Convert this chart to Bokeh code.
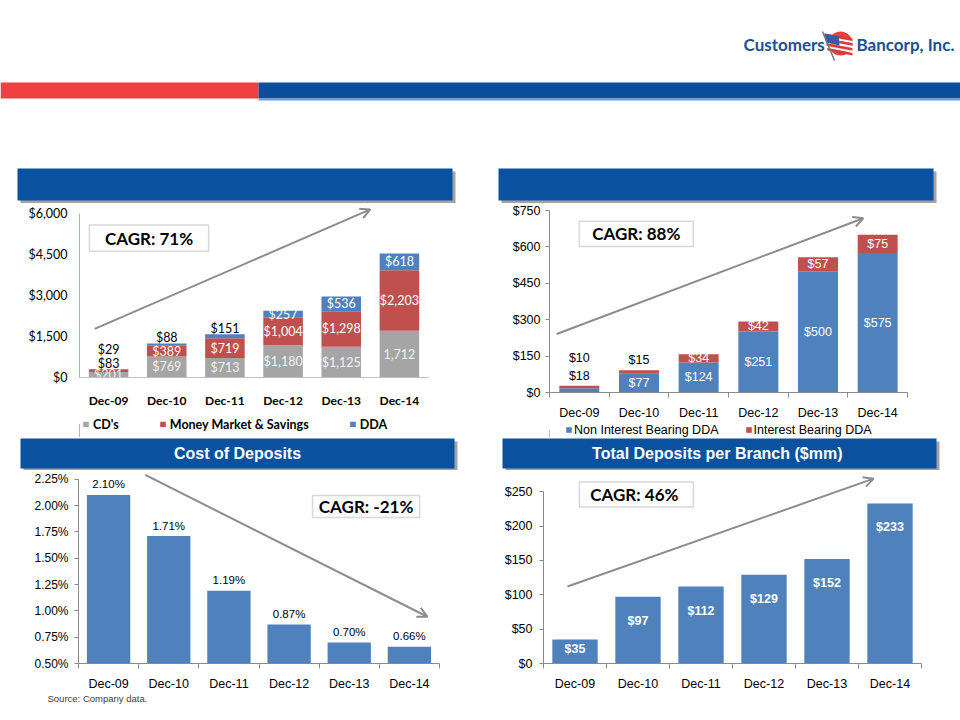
from bokeh.plotting import figure
from bokeh.layouts import column, row
from bokeh.models import (Range1d, FixedTicker, NumeralTickFormatter, PrintfTickFormatter,
                          Legend, LegendItem, Arrow, OpenHead, BoxAnnotation, Label,
                          ColumnDataSource)
from bokeh.core.properties import value
from bokeh.embed import file_html
from bokeh.resources import INLINE

# ---------------- data ----------------
categories = ["Dec-09", "Dec-10", "Dec-11", "Dec-12", "Dec-13", "Dec-14"]

# Total deposits ($mm)
cds = [201, 769, 713, 1180, 1125, 1712]
money_market = [83, 389, 719, 1004, 1298, 2203]
dda = [29, 88, 151, 257, 536, 618]
deposit_series = ["CD's", "Money Market & Savings", "DDA"]
cagr_deposits = "CAGR: 71%"
tl_ticks = [0, 1500, 3000, 4500, 6000]

# DDA ($mm)
non_int_dda = [18, 77, 124, 251, 500, 575]
int_dda = [10, 15, 34, 42, 57, 75]
dda_series = ["Non Interest Bearing DDA", "Interest Bearing DDA"]
cagr_dda = "CAGR: 88%"
tr_ticks = [0, 150, 300, 450, 600, 750]

# Cost of deposits (%)
cost_of_deposits = [2.10, 1.71, 1.19, 0.87, 0.70, 0.66]
cagr_cost = "CAGR: -21%"
bl_ticks = [0.50, 0.75, 1.00, 1.25, 1.50, 1.75, 2.00, 2.25]

# Total deposits per branch ($mm)
deposits_per_branch = [35, 97, 112, 129, 152, 233]
cagr_branch = "CAGR:  46%"
br_ticks = [0, 50, 100, 150, 200, 250]

title_cost = "Cost of Deposits"
title_branch = "Total Deposits per Branch  ($mm)"
source_note = "Source: Company data."

# ---------------- styles ----------------
BLUE = "#4f81bd"
RED = "#c0504d"
GRAY = "#a5a5a5"
BANNER = "#0a52a0"
SHADOW = "#a3a3a3"
ARROW = "#8c8c8c"
AXIS = "#8a8a8a"
ARIAL = "Liberation Sans"
CALIBRI = "Lato"

n = len(categories)
xs = list(range(n))


def plain_fig(width, height, x0, x1, y0, y1, borders=(0, 0, 0, 0)):
    f = figure(width=width, height=height, x_range=Range1d(x0, x1), y_range=Range1d(y0, y1),
               toolbar_location=None, output_backend="svg",
               min_border_left=borders[0], min_border_right=borders[1],
               min_border_top=borders[2], min_border_bottom=borders[3],
               x_axis_location=None, y_axis_location=None)
    f.xgrid.visible = False
    f.ygrid.visible = False
    f.outline_line_color = None
    return f


def base_fig(width, height, left, right, top, bottom, y0, y1):
    p = figure(width=width, height=height, x_range=Range1d(-0.5, n - 0.5),
               y_range=Range1d(y0, y1), toolbar_location=None, output_backend="svg",
               min_border_left=left, min_border_right=right,
               min_border_top=top, min_border_bottom=bottom)
    p.xgrid.visible = False
    p.ygrid.visible = False
    p.outline_line_color = None
    p.background_fill_color = "white"
    p.border_fill_color = "white"
    return p


def style_axes(p, yticks, yfmt, font, tick_size, cat_bold, cat_size, boundary_ticks,
               ycolor, ystandoff, ytick_out, xstandoff):
    xa = p.xaxis[0]
    xa.ticker = FixedTicker(ticks=xs, minor_ticks=[i - 0.5 for i in range(n + 1)])
    xa.major_label_overrides = {i: c for i, c in enumerate(categories)}
    xa.major_tick_line_color = None
    xa.major_tick_out = 0
    xa.major_tick_in = 0
    if boundary_ticks:
        xa.minor_tick_out = 5
        xa.minor_tick_in = 0
        xa.minor_tick_line_color = AXIS
    else:
        xa.minor_tick_line_color = None
    xa.axis_line_color = AXIS
    xa.major_label_text_font = font
    xa.major_label_text_font_size = cat_size
    xa.major_label_text_font_style = "bold" if cat_bold else "normal"
    xa.major_label_text_color = "black"
    xa.major_label_standoff = xstandoff

    ya = p.yaxis[0]
    ya.ticker = FixedTicker(ticks=yticks)
    ya.bounds = (yticks[0], yticks[-1])
    ya.formatter = yfmt
    ya.minor_tick_line_color = None
    ya.major_tick_in = 0
    ya.major_tick_out = ytick_out
    ya.major_tick_line_color = ycolor if ytick_out else None
    ya.axis_line_color = ycolor
    ya.major_label_text_font = font
    ya.major_label_text_font_size = tick_size
    ya.major_label_text_color = "black"
    ya.major_label_standoff = ystandoff


def cagr_box(p, left, right, bottom, top, text):
    p.add_layout(BoxAnnotation(left=left, right=right, bottom=bottom, top=top,
                               fill_color="white", fill_alpha=1.0,
                               line_color="#7f7f7f", line_width=1.5))
    p.add_layout(Label(x=(left + right) / 2, y=(bottom + top) / 2, text=text,
                       text_font=CALIBRI, text_font_style="bold", text_font_size="17px",
                       text_color="black", text_align="center", text_baseline="middle"))


def trend_arrow(p, x0, y0, x1, y1):
    p.add_layout(Arrow(end=OpenHead(size=10, line_color=ARROW, line_width=2),
                       x_start=x0, y_start=y0, x_end=x1, y_end=y1,
                       line_color=ARROW, line_width=2))


def stacked_labels(series, texts, small, px_per_unit, offsets_px, inside_colors):
    lx, ly, lt, lc = [], [], [], []
    for i in range(n):
        top = sum(s[i] for s in series)
        bottom = 0
        k = 0
        for j, s in enumerate(series):
            v = s[i]
            lx.append(i)
            lt.append(texts[j][i])
            if v < small:
                ly.append(top + offsets_px[k] / px_per_unit)
                lc.append("black")
                k += 1
            else:
                ly.append(bottom + v / 2)
                lc.append(inside_colors[j])
            bottom += v
    return dict(x=lx, y=ly, text=lt, color=lc)


def legend_fig(width, height, left, right, names, colors, font, bold, size, offset, spacing,
               standoff):
    f = plain_fig(width, height, 0, 1, 0, 1, (left, right, 0, 0))
    # swatch renderers sit outside the visible range; only their legend entries show
    rends = [f.vbar(x=[-5], top=[0.5], width=0.5, color=c, line_color=None) for c in colors]
    leg = Legend(items=[LegendItem(label=nm, renderers=[r]) for nm, r in zip(names, rends)],
                 orientation="horizontal", location="left", margin=offset, padding=0,
                 spacing=spacing, glyph_width=7, glyph_height=7, label_standoff=standoff,
                 label_height=12, border_line_color=None, background_fill_alpha=0,
                 label_text_font=font, label_text_font_style="bold" if bold else "normal",
                 label_text_font_size=size, label_text_color="black")
    f.add_layout(leg)
    return f


# ---------------- header ----------------
hdr = plain_fig(960, 203, 0, 960, 203, 0)
hdr.quad(left=[0, 258], right=[258, 960], top=[82, 82], bottom=[98, 98],
         color=["#ee4040", "#0b4f9c"], line_color=None)
hdr.quad(left=[258], right=[960], top=[98], bottom=[100], color="#6f9bd0", line_color=None)
hdr.quad(left=[20, 501], right=[455, 936], top=[171, 171], bottom=[203, 203],
         color=SHADOW, line_color=None)
hdr.quad(left=[17, 498], right=[452, 933], top=[168, 168], bottom=[200, 200],
         color=BANNER, line_color=None)
hdr.text(x=[743], y=[44], text=["Customers"], text_font=value(CALIBRI),
         text_font_style="bold", text_font_size="17px", text_color="#1d4f91",
         text_align="left", text_baseline="middle")
hdr.text(x=[856], y=[44], text=["Bancorp, Inc."], text_font=value(CALIBRI),
         text_font_style="bold", text_font_size="17px", text_color="#1d4f91",
         text_align="left", text_baseline="middle")
hdr.circle(x=[840], y=[43], radius=12, color="#e8413c", line_color=None)
fx0, fx1 = 824, 852
stripe_cols = ["#d83a3a", "#f4f4f4"] * 4
for k in range(7):
    t0, t1 = k / 7, (k + 1) / 7
    hdr.patch(x=[fx0 + 3 * t0, fx1, fx1, fx0 + 3 * t1],
              y=[33 + t0 * 17, 38 + t0 * 17, 38 + t1 * 17, 33 + t1 * 17],
              color=stripe_cols[k], line_color=None)
hdr.patch(x=[fx0, 838, 839, fx0 + 1.5], y=[33, 35.5, 45, 42], color="#3b5aa6", line_color=None)
hdr.line(x=[822, 834], y=[31, 60], line_color="#777777", line_width=1.5)

# ---------------- top-left: total deposits ----------------
tl_unit = 6000 / 169
tl = base_fig(480, 207, 79, 52, 2, 28, 0, 6000 + 8 * tl_unit)
style_axes(tl, tl_ticks, NumeralTickFormatter(format="$0,0"), CALIBRI, "12.5px", True, "12px",
           False, "#9fb3cf", 12, 0, 11)
tl.xaxis[0].axis_line_color = "#bfbfbf"
src_tl = ColumnDataSource(dict(x=xs, cds=cds, mm=money_market, dda=dda))
tl.vbar_stack(["cds", "mm", "dda"], x="x", width=0.68, color=[GRAY, RED, BLUE],
              line_color=None, source=src_tl)
cd_text = [f"${v:,}" for v in cds]
cd_text[-1] = f"{cds[-1]:,}"
lab = stacked_labels([cds, money_market, dda],
                     [cd_text, [f"${v:,}" for v in money_market], [f"${v:,}" for v in dda]],
                     180, 1 / tl_unit, (6, 20), ["#f2f2f2", "white", "white"])
tl.text(x="x", y="y", text="text", text_color="color", source=ColumnDataSource(lab),
        text_font=value(CALIBRI), text_font_size="12.5px", text_align="center",
        text_baseline="middle")
trend_arrow(tl, -0.24, 1775, 4.50, 6140)
cagr_box(tl, -0.33, 1.72, 4615, 5574, cagr_deposits)
tl_leg = legend_fig(480, 27, 79, 52, deposit_series, [GRAY, RED, BLUE], CALIBRI, True,
                    "12.5px", 3, 40, 4)

# ---------------- top-right: DDA ----------------
tr_unit = 750 / 187
tr = base_fig(480, 219, 69, 53, 7, 25, 0, 750)
style_axes(tr, tr_ticks, NumeralTickFormatter(format="$0"), ARIAL, "12.5px", False, "12.5px",
           True, AXIS, 5, 4, 8)
src_tr = ColumnDataSource(dict(x=xs, non=non_int_dda, intr=int_dda))
tr.vbar_stack(["non", "intr"], x="x", width=0.67, color=[BLUE, RED],
              line_color=None, source=src_tr)
lab2 = stacked_labels([non_int_dda, int_dda],
                      [[f"${v}" for v in non_int_dda], [f"${v}" for v in int_dda]],
                      20, 1 / tr_unit, (10, 28), ["white", "white"])
tr.text(x="x", y="y", text="text", text_color="color", source=ColumnDataSource(lab2),
        text_font=value(ARIAL), text_font_size="12.5px", text_align="center",
        text_baseline="middle")
trend_arrow(tr, -0.38, 241, 4.76, 718)
cagr_box(tr, 0.0, 1.91, 602, 706, cagr_dda)
tr_leg = legend_fig(480, 15, 69, 53, dda_series, [BLUE, RED], ARIAL, False, "12.5px",
                    16, 26, 2)

# ---------------- middle banners ----------------
mid = plain_fig(960, 33, 0, 960, 470, 437)
mid.quad(left=[23, 505], right=[457, 939], top=[441, 441], bottom=[471, 471],
         color=SHADOW, line_color=None)
mid.quad(left=[20, 502], right=[454, 936], top=[438, 438], bottom=[468, 468],
         color=BANNER, line_color=None)
mid.text(x=[237, 719], y=[453, 453], text=[title_cost, title_branch],
         text_font=value(ARIAL), text_font_style="bold", text_font_size="16px",
         text_color="white", text_align="center", text_baseline="middle")

# ---------------- bottom-left: cost of deposits ----------------
bl_unit = 1.75 / 193
bl = base_fig(480, 223, 78, 41, 2, 22, 0.5, 2.25 + 7 * bl_unit)
style_axes(bl, bl_ticks, PrintfTickFormatter(format="%.2f%%"), ARIAL, "12px", False, "12.5px",
           True, AXIS, 6, 4, 8)
src_bl = ColumnDataSource(dict(x=xs, v=cost_of_deposits))
bl.vbar(x="x", top="v", bottom=0.5, width=0.72, color=BLUE, line_color=None, source=src_bl)
bl.text(x=xs, y=[v + 11 * bl_unit for v in cost_of_deposits],
        text=[f"{v:.2f}%" for v in cost_of_deposits], text_font=value(ARIAL),
        text_font_size="11.5px", text_color="black", text_align="center",
        text_baseline="middle")
trend_arrow(bl, 0.61, 2.29, 5.30, 0.944)
cagr_box(bl, 3.39, 5.17, 1.887, 2.096, cagr_cost)

# ---------------- bottom-right: deposits per branch ----------------
br_unit = 250 / 179
br = base_fig(480, 223, 63, 39, 2, 22, 0, 250 + 20 * br_unit)
style_axes(br, br_ticks, NumeralTickFormatter(format="$0"), ARIAL, "12.5px", False, "12.5px",
           True, AXIS, 7, 4, 8)
src_br = ColumnDataSource(dict(x=xs, v=deposits_per_branch))
br.vbar(x="x", top="v", width=0.72, color=BLUE, line_color=None, source=src_br)
br.text(x=xs, y=[max(v - 25 * br_unit, 0.62 * v) for v in deposits_per_branch],
        text=[f"${v}" for v in deposits_per_branch], text_font=value(ARIAL),
        text_font_style="bold", text_font_size="12.5px", text_color="white",
        text_align="center", text_baseline="middle")
trend_arrow(br, -0.12, 112, 4.74, 269)
cagr_box(br, 0.07, 1.88, 227.6, 264, cagr_branch)

# ---------------- source note ----------------
foot = plain_fig(960, 27, 0, 960, 720, 693)
foot.text(x=[47], y=[698], text=[source_note], text_font=value(ARIAL),
          text_font_size="9.5px", text_color="#404040", text_align="left",
          text_baseline="middle")

layout = column(hdr, row(column(tl, tl_leg), column(tr, tr_leg)), mid, row(bl, br), foot)
open("out.html", "w").write(file_html(layout, INLINE))
